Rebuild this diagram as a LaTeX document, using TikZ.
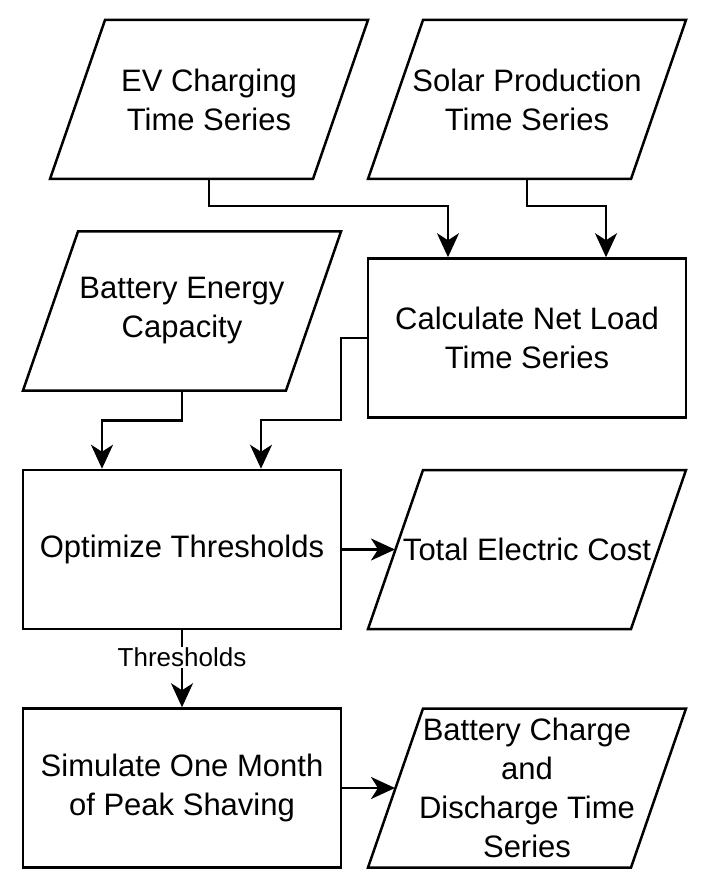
\documentclass[tikz,border=0pt]{standalone}
\usepackage{fontspec}
\setmainfont{Liberation Sans}
\usetikzlibrary{arrows.meta}

\newcommand\ioshape[1]{\draw[line width=2.5pt] (#1.south west) -- ([xshift=55pt]#1.north west) -- (#1.north east) -- ([xshift=-55pt]#1.south east) -- cycle;}

\begin{document}
\begin{tikzpicture}[x=1pt, y=-1pt,
  box/.style={rectangle, minimum width=318pt, minimum height=159pt, inner sep=0pt, align=center, font=\fontsize{31}{39}\selectfont},
  procbox/.style={box, draw, line width=2.5pt},
  databox/.style={box, outer sep=0pt},
  flow/.style={line width=2.5pt, -{Stealth[length=24pt, width=22pt, inset=7pt]}}]
\useasboundingbox (0,0) rectangle (709,882);

\node[databox] (ev) at (209,99.5) {EV Charging\\Time Series};
\node[databox] (sol) at (527,99.5) {Solar Production\\Time Series};
\node[databox] (bat) at (182,311) {Battery Energy\\Capacity};
\node[procbox] (calc) at (527,338) {Calculate Net Load\\Time Series};
\node[procbox] (opt) at (182,549.5) {Optimize Thresholds};
\node[databox] (cost) at (527,549.5) {Total Electric Cost};
\node[procbox] (sim) at (182,788) {Simulate One Month\\of Peak Shaving};
\node[databox] (out) at (527,788) {Battery Charge\\and\\Discharge Time\\Series};
\ioshape{ev}
\ioshape{sol}
\ioshape{bat}
\ioshape{cost}
\ioshape{out}

\draw[flow] (ev.south) -- ++(0,27) -| ([xshift=-79pt]calc.north);
\draw[flow] (sol.south) -- ++(0,27) -| ([xshift=79pt]calc.north);
\draw[flow] (bat.south) -- ++(0,30) -| ([xshift=-80pt]opt.north);
\draw[flow] (calc.west) -- ++(-26,0) -- ++(0,82) -| ([xshift=79pt]opt.north);
\draw[flow] (opt.east) -- ([xshift=27pt]cost.west);
\draw[flow] (opt.south) -- node[pos=0.35, fill=white, inner sep=1pt, font=\fontsize{26}{30}\selectfont] {Thresholds} (sim.north);
\draw[flow] (sim.east) -- ([xshift=27pt]out.west);
\end{tikzpicture}
\end{document}
